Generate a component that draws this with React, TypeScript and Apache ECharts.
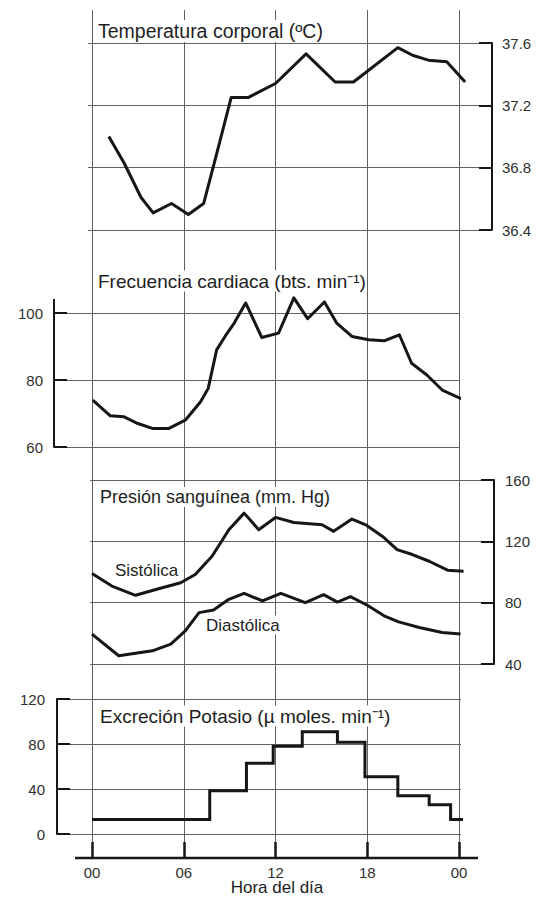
import React, { useEffect, useRef } from "react";
import * as echarts from "echarts";

// ---- data ----
const hourTickLabels = ["00", "06", "12", "18", "00"];
const xAxisTitle = "Hora del día";

const tempHours = [1.1, 2.1, 3.2, 4.0, 5.2, 6.3, 7.3, 8.1, 9.1, 10.2, 12.0, 14.0, 15.9, 17.1, 20.0, 21.0, 22.0, 23.2, 24.4];
const tempValues = [37.0, 36.83, 36.61, 36.51, 36.57, 36.5, 36.57, 36.87, 37.25, 37.25, 37.34, 37.53, 37.35, 37.35, 37.57, 37.52, 37.49, 37.48, 37.35];

const hrHours = [0.05, 1.2, 2.1, 3.0, 4.0, 5.0, 6.1, 7.1, 7.6, 8.15, 8.7, 9.3, 10.05, 11.1, 12.2, 13.2, 14.1, 15.2, 16.0, 17.0, 18.1, 19.1, 20.1, 20.9, 21.9, 22.9, 24.2];
const hrValues = [74, 69.3, 69, 67, 65.5, 65.5, 68, 73.5, 77.5, 89, 93, 97, 103, 92.7, 94, 104.5, 98.3, 103.3, 97, 93, 92, 91.7, 93.5, 85, 81.5, 77, 74.3];

const sysHours = [0, 1.3, 2.85, 4.35, 5.8, 6.75, 7.85, 8.95, 9.95, 10.9, 12.0, 13.2, 15.05, 15.8, 17.0, 17.9, 19.0, 19.95, 20.95, 22.05, 23.25, 24.3];
const sysValues = [99, 90.8, 84.8, 89.1, 93, 98.4, 110.3, 127.6, 138.4, 127.6, 135.6, 132.3, 130.8, 126.5, 134.5, 130.8, 123.2, 114.6, 111.4, 107, 101.2, 100.5];

const diaHours = [0, 1.75, 3.95, 5.15, 6.1, 7.0, 7.95, 8.95, 9.95, 11.15, 12.35, 13.95, 15.15, 16.05, 16.9, 18.0, 19.1, 20.05, 21.4, 22.9, 24.1];
const diaValues = [59.5, 45.4, 48.6, 53, 61.6, 73.5, 75.2, 82.2, 86.1, 81.1, 86.1, 80, 85.2, 80.4, 83.9, 78.3, 71.4, 67.5, 63.8, 60.5, 59.5];

// step changes (hour at which the new level starts)
const kHours = [0, 7.7, 10.1, 11.85, 13.75, 16.05, 17.85, 20.0, 22.05, 23.45, 24.3];
const kValues = [13, 38.5, 63, 78, 91, 81.5, 51, 34, 26, 13, 13];

const tempTicks = { min: 36.4, max: 37.6, interval: 0.4 };
const hrTicks = { min: 60, max: 100, interval: 20 };
const bpTicks = { min: 40, max: 160, interval: 40 };
const kTicks = { min: 0, max: 120, interval: 40 };

// ---- layout ----
const FONT = '"Liberation Sans", Arial, Helvetica, sans-serif';
const X0 = 92;
const X24 = 459;
const PXH = (X24 - X0) / 24;
const W = 536;
const H = 897;
const INK = "#161616";
const GRIDC = "#626262";

const pairs = (xs: number[], ys: number[]) => xs.map((x, i) => [x, ys[i]]);
const xRange = (L: number, R: number) => ({ min: (L - X0) / PXH, max: (R - X0) / PXH });

function hiddenX(gridIndex: number, L: number, R: number) {
  const r = xRange(L, R);
  return {
    type: "value",
    gridIndex,
    min: r.min,
    max: r.max,
    show: false,
  };
}

function yAx(gridIndex: number, ticks: any, position: string, margin: number, decimals: number) {
  return {
    type: "value",
    gridIndex,
    position,
    min: ticks.min,
    max: ticks.max,
    interval: ticks.interval,
    axisLine: { show: true, onZero: false, lineStyle: { color: INK, width: 2 } },
    axisTick: { show: true, inside: true, length: 13, lineStyle: { color: INK, width: 2 } },
    axisLabel: {
      show: true,
      margin,
      color: "#303030",
      fontSize: 15,
      fontFamily: FONT,
      formatter: (v: number) => v.toFixed(decimals),
    },
    splitLine: { show: true, lineStyle: { color: GRIDC, width: 1 } },
  };
}

function label(text: string, x: number, y: number, size: number, align = "left", bg = true) {
  return {
    type: "text",
    x,
    y,
    z: 100,
    style: {
      text,
      fontSize: size,
      fontFamily: FONT,
      fill: "#1e1e1e",
      align,
      verticalAlign: "middle",
      backgroundColor: bg ? "#ffffff" : undefined,
      padding: [1, 1],
    },
  };
}

const gridBox = (left: number, right: number, top: number, height: number) => ({
  left,
  right,
  top,
  height,
  containLabel: false,
  outerBoundsMode: "none",
});

const lineStyle = { color: INK, width: 3, join: "round" };

export default function App() {
  const ref = useRef<HTMLDivElement>(null);
  useEffect(() => {
    if (!ref.current) return;
    const chart = echarts.init(ref.current, undefined, { renderer: "svg" });
    const option: any = {
      animation: false,
      backgroundColor: "#ffffff",
      grid: [
        gridBox(88, W - 492, 43, 187),
        gridBox(54, W - 459, 313, 134),
        gridBox(90, W - 494, 480, 184),
        gridBox(57, W - 461, 699, 135),
        gridBox(X0, W - X24, 10, 848),
      ],
      xAxis: [
        hiddenX(0, 88, 492),
        hiddenX(1, 54, 459),
        hiddenX(2, 90, 494),
        hiddenX(3, 57, 461),
        {
          type: "value",
          gridIndex: 4,
          min: 0,
          max: 24,
          interval: 6,
          axisLine: { show: false, onZero: false },
          axisTick: { show: true, inside: true, length: 16, lineStyle: { color: INK, width: 2.5 } },
          axisLabel: {
            margin: 7,
            color: "#303030",
            fontSize: 15,
            fontFamily: FONT,
            formatter: (v: number) => hourTickLabels[Math.round(v / 6)],
          },
          splitLine: { show: true, lineStyle: { color: GRIDC, width: 1 } },
        },
      ],
      yAxis: [
        yAx(0, tempTicks, "right", 10, 1),
        yAx(1, hrTicks, "left", 11, 0),
        yAx(2, bpTicks, "right", 11, 0),
        yAx(3, kTicks, "left", 12, 0),
        { type: "value", gridIndex: 4, min: 0, max: 1, show: false },
      ],
      series: [
        { type: "line", xAxisIndex: 0, yAxisIndex: 0, data: pairs(tempHours, tempValues), symbol: "none", clip: false, lineStyle, z: 5 },
        { type: "line", xAxisIndex: 1, yAxisIndex: 1, data: pairs(hrHours, hrValues), symbol: "none", clip: false, lineStyle, z: 5 },
        { type: "line", xAxisIndex: 2, yAxisIndex: 2, data: pairs(sysHours, sysValues), symbol: "none", clip: false, lineStyle, z: 5 },
        { type: "line", xAxisIndex: 2, yAxisIndex: 2, data: pairs(diaHours, diaValues), symbol: "none", clip: false, lineStyle, z: 5 },
        { type: "line", xAxisIndex: 3, yAxisIndex: 3, data: pairs(kHours, kValues), step: "end", symbol: "none", clip: false, lineStyle: { color: INK, width: 3, join: "miter" }, z: 5 },
      ],
      graphic: [
        { type: "line", z: 50, shape: { x1: 75, y1: 858, x2: 478, y2: 858 }, style: { stroke: INK, lineWidth: 2.5 } },
        { type: "line", z: 50, shape: { x1: 54, y1: 299, x2: 54, y2: 313 }, style: { stroke: INK, lineWidth: 2 } },
        label("Temperatura corporal (ºC)", 97, 31, 19.5),
        label("Frecuencia cardiaca (bts. min⁻¹)", 97, 281, 19),
        label("Presión sanguínea (mm. Hg)", 99, 497, 18),
        label("Excreción Potasio (µ moles. min⁻¹)", 99, 716, 19),
        label("Sistólica", 114, 570, 17),
        label("Diastólica", 205, 625, 17),
        label(xAxisTitle, 277, 887, 17, "center", false),
      ],
    };
    chart.setOption(option);
    return () => chart.dispose();
  }, []);
  return <div ref={ref} style={{ position: "fixed", left: 0, top: 0, width: W, height: H }} />;
}
